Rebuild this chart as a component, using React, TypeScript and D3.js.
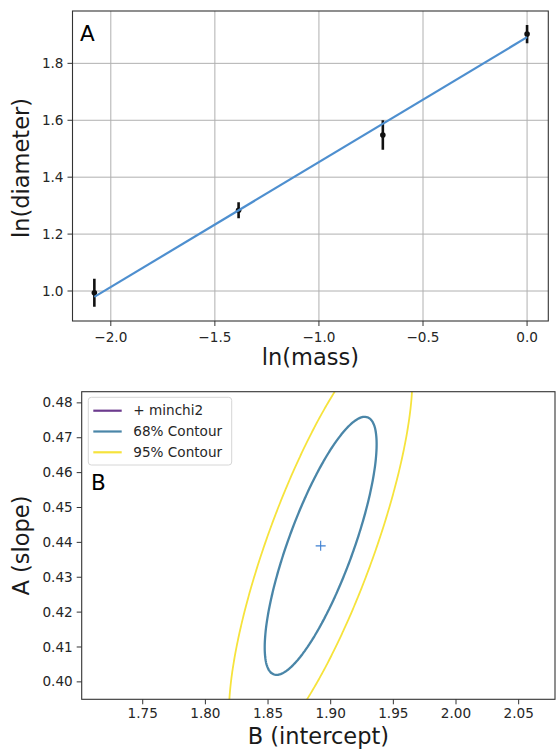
import React from "react";
import * as d3 from "d3";

// ---- data ----
const lnMass = [-2.079, -1.386, -0.693, 0.0];
const lnDiameter = [0.994, 1.284, 1.548, 1.903];
const lnDiameterErr = [0.049, 0.028, 0.052, 0.032];
const fitIntercept = 1.892; // B at minimum chi2
const fitSlope = 0.439; // A at minimum chi2

const topXTicks = [-2.0, -1.5, -1.0, -0.5, 0.0];
const topYTicks = [1.0, 1.2, 1.4, 1.6, 1.8];
const botXTicks = [1.75, 1.8, 1.85, 1.9, 1.95, 2.0, 2.05];
const botYTicks = [0.4, 0.41, 0.42, 0.43, 0.44, 0.45, 0.46, 0.47, 0.48];

const contourLevels = [2.3, 6.17]; // delta chi2 for 68% and 95% (2 params)
const contourColors = ["#4a86a8", "#f6e33c"];
const legendLabels = ["+ minchi2", "68% Contour", "95% Contour"];
const legendColors = ["#6c3b8e", "#4a86a8", "#f6e33c"];

const FONT = "'DejaVu Sans', sans-serif";
const TICK_FS = 13.6;
const LABEL_FS = 22.5;
const fmtMinus = (v: number, d: number) => v.toFixed(d).replace("-", "\u2212");

export default function App() {
  // ---------- top panel ----------
  const tL = 72.5, tR = 548.3, tT = 11, tB = 321;
  const xT = d3.scaleLinear().domain([-2.184, 0.102]).range([tL, tR]);
  const yT = d3.scaleLinear().domain([0.8946, 1.984]).range([tB, tT]);
  const fitLine = d3.line<number>()
    .x((d) => xT(d))
    .y((d) => yT(fitIntercept + fitSlope * d));
  const fitXs = [d3.min(lnMass)!, d3.max(lnMass)!];

  // ---------- bottom panel ----------
  const bL = 81.7, bR = 555, bT = 391.7, bB = 699.3;
  const xB = d3.scaleLinear().domain([1.7013, 2.079]).range([bL, bR]);
  const yB = d3.scaleLinear().domain([0.395, 0.4832]).range([bB, bT]);

  // delta-chi2 grid around the minimum, from the data's x values and errors
  const nB = 260, nA = 260;
  const gB0 = 1.64, gB1 = 2.14, gA0 = 0.365, gA1 = 0.515;
  const sB = (gB1 - gB0) / (nB - 1), sA = (gA1 - gA0) / (nA - 1);
  const values = new Array(nB * nA);
  for (let j = 0; j < nA; j++) {
    const dA = gA0 + j * sA - fitSlope;
    for (let i = 0; i < nB; i++) {
      const dBv = gB0 + i * sB - fitIntercept;
      let c = 0;
      for (let k = 0; k < lnMass.length; k++) {
        const r = (dBv + dA * lnMass[k]) / lnDiameterErr[k];
        c += r * r;
      }
      values[i + j * nB] = c;
    }
  }
  const contours = d3.contours().size([nB, nA]).thresholds(contourLevels)(values);
  const proj = d3.geoTransform({
    point(this: any, x: number, y: number) {
      this.stream.point(xB(gB0 + (x - 0.5) * sB), yB(gA0 + (y - 0.5) * sA));
    },
  });
  const geoPath = d3.geoPath(proj);

  const frame = "#333333";

  return (
    <div style={{ position: "fixed", left: 0, top: 0 }}>
      <svg width={556} height={750} style={{ display: "block", background: "#fff" }} fontFamily={FONT}>
        <defs>
          <clipPath id="clipTop">
            <rect x={tL} y={tT} width={tR - tL} height={tB - tT} />
          </clipPath>
          <clipPath id="clipBot">
            <rect x={bL} y={bT} width={bR - bL} height={bB - bT} />
          </clipPath>
        </defs>

        {/* ===== TOP PANEL ===== */}
        <g>
          {topXTicks.map((t) => (
            <line key={"gx" + t} x1={xT(t)} x2={xT(t)} y1={tT} y2={tB} stroke="#b0b0b0" strokeWidth={1} />
          ))}
          {topYTicks.map((t) => (
            <line key={"gy" + t} x1={tL} x2={tR} y1={yT(t)} y2={yT(t)} stroke="#b0b0b0" strokeWidth={1} />
          ))}
          <g clipPath="url(#clipTop)">
            {lnMass.map((x, i) => (
              <g key={"eb" + i}>
                <line
                  x1={xT(x)} x2={xT(x)}
                  y1={yT(lnDiameter[i] - lnDiameterErr[i])}
                  y2={yT(lnDiameter[i] + lnDiameterErr[i])}
                  stroke="#111" strokeWidth={2.6}
                />
                <circle cx={xT(x)} cy={yT(lnDiameter[i])} r={2.8} fill="#111" />
              </g>
            ))}
            <path d={fitLine(fitXs) || ""} fill="none" stroke="#4e8fcf" strokeWidth={2.2} />
          </g>
          <rect x={tL} y={tT} width={tR - tL} height={tB - tT} fill="none" stroke={frame} strokeWidth={1.1} />
          {topXTicks.map((t) => (
            <g key={"tx" + t}>
              <line x1={xT(t)} x2={xT(t)} y1={tB} y2={tB + 5} stroke={frame} strokeWidth={1} />
              <text x={xT(t)} y={tB + 11} dy="0.71em" textAnchor="middle" fontSize={TICK_FS} fill="#262626">
                {fmtMinus(t, 1)}
              </text>
            </g>
          ))}
          {topYTicks.map((t) => (
            <g key={"ty" + t}>
              <line x1={tL - 5} x2={tL} y1={yT(t)} y2={yT(t)} stroke={frame} strokeWidth={1} />
              <text x={tL - 9} y={yT(t)} dy="0.34em" textAnchor="end" fontSize={TICK_FS} fill="#262626">
                {fmtMinus(t, 1)}
              </text>
            </g>
          ))}
          <text x={80} y={40.5} fontSize={21.5} fill="#000">A</text>
          <text x={(tL + tR) / 2} y={365} textAnchor="middle" fontSize={LABEL_FS} fill="#1a1a1a">ln(mass)</text>
          <text transform={`translate(29, ${(tT + tB) / 2 + 2}) rotate(-90)`} textAnchor="middle" fontSize={LABEL_FS} fill="#1a1a1a">
            ln(diameter)
          </text>
        </g>

        {/* ===== BOTTOM PANEL ===== */}
        <g>
          <g clipPath="url(#clipBot)">
            {contours.map((c, i) => (
              <path key={"ct" + i} d={geoPath(c as any) || ""} fill="none" stroke={contourColors[i]}
                strokeWidth={i === 0 ? 2.3 : 1.8} />
            ))}
            <g stroke="#3d7fd1" strokeWidth={1.1}>
              <line x1={xB(fitIntercept) - 5} x2={xB(fitIntercept) + 5} y1={yB(fitSlope)} y2={yB(fitSlope)} />
              <line x1={xB(fitIntercept)} x2={xB(fitIntercept)} y1={yB(fitSlope) - 5} y2={yB(fitSlope) + 5} />
            </g>
          </g>
          <rect x={bL} y={bT} width={bR - bL} height={bB - bT} fill="none" stroke={frame} strokeWidth={1.1} />
          {botXTicks.map((t) => (
            <g key={"bx" + t}>
              <line x1={xB(t)} x2={xB(t)} y1={bB} y2={bB + 5} stroke={frame} strokeWidth={1} />
              <text x={xB(t)} y={bB + 9} dy="0.71em" textAnchor="middle" fontSize={TICK_FS} fill="#262626">
                {t.toFixed(2)}
              </text>
            </g>
          ))}
          {botYTicks.map((t) => (
            <g key={"by" + t}>
              <line x1={bL - 5} x2={bL} y1={yB(t)} y2={yB(t)} stroke={frame} strokeWidth={1} />
              <text x={bL - 9} y={yB(t)} dy="0.34em" textAnchor="end" fontSize={TICK_FS} fill="#262626">
                {t.toFixed(2)}
              </text>
            </g>
          ))}
          {/* legend */}
          <rect x={88.3} y={397.3} width={143.4} height={67.7} rx={3} fill="#fff" fillOpacity={0.85} stroke="#d6d6d6" strokeWidth={1} />
          {legendLabels.map((lab, i) => {
            const y = 410.7 + i * 20.8;
            return (
              <g key={"lg" + i}>
                <line x1={93.3} x2={121.7} y1={y} y2={y} stroke={legendColors[i]} strokeWidth={2.2} />
                <text x={133.3} y={y} dy="0.35em" fontSize={TICK_FS} fill="#262626">{lab}</text>
              </g>
            );
          })}
          <text x={91} y={490} fontSize={21.5} fill="#000">B</text>
          <text x={(bL + bR) / 2} y={744} textAnchor="middle" fontSize={LABEL_FS} fill="#1a1a1a">B (intercept)</text>
          <text transform={`translate(29, ${(bT + bB) / 2}) rotate(-90)`} textAnchor="middle" fontSize={LABEL_FS} fill="#1a1a1a">
            A (slope)
          </text>
        </g>
      </svg>
    </div>
  );
}
